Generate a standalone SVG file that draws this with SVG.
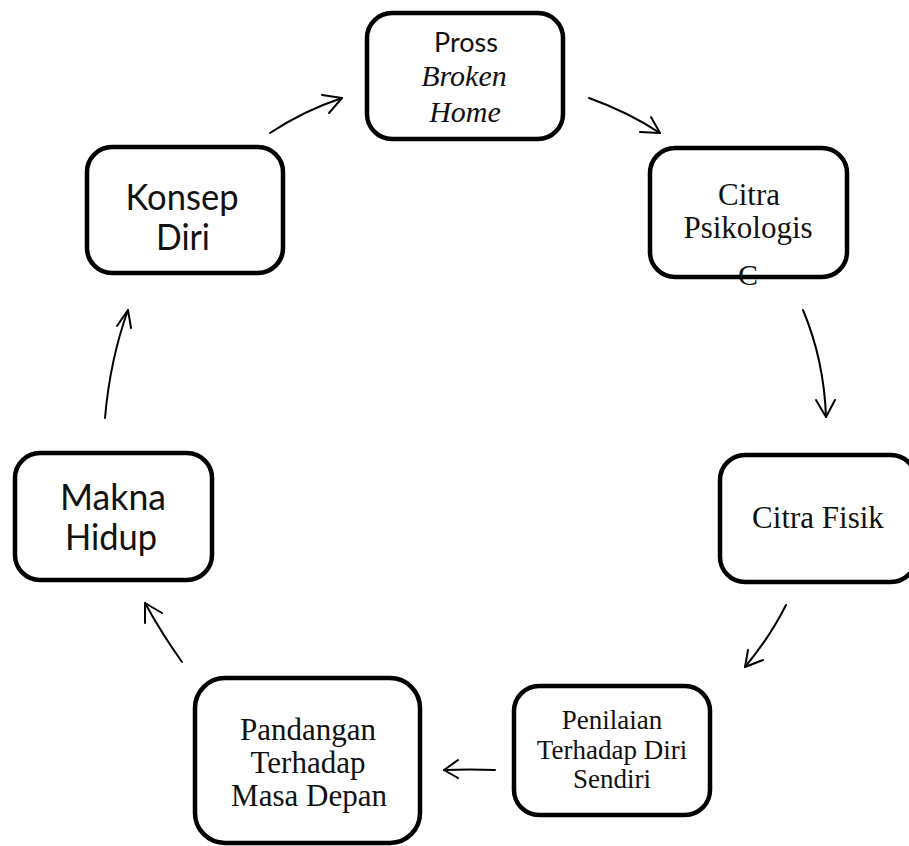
<svg xmlns="http://www.w3.org/2000/svg" width="909" height="846" viewBox="0 0 909 846">
<style>
.box{fill:#fff;stroke:#000;stroke-width:4.5}
.sans{font-family:Lato,"Open Sans","Liberation Sans",sans-serif;fill:#111;text-anchor:middle}
.serif{font-family:"Liberation Serif","Times New Roman",serif;fill:#111;text-anchor:middle}
.con path{fill:none;stroke:#000;stroke-width:2;stroke-linecap:round;stroke-linejoin:round}
</style>
<rect width="909" height="846" fill="#fff"/>
<g id="n1"><rect class="box" x="367" y="13" width="196" height="126" rx="25"/>
<text class="sans" x="466" y="52" font-size="27">Pross</text>
<text class="serif" x="464" y="86" font-size="30" font-style="italic">Broken</text>
<text class="serif" x="465" y="122" font-size="30" font-style="italic">Home</text></g>
<g id="n2"><rect class="box" x="650" y="148" width="197" height="129" rx="25"/>
<text class="serif" x="749" y="205" font-size="31">Citra</text>
<text class="serif" x="748" y="238" font-size="31">Psikologis</text>
<text class="serif" x="748" y="285" font-size="30">C</text></g>
<g id="n3"><rect class="box" x="720" y="455" width="196" height="127" rx="25"/>
<text class="serif" x="818" y="528" font-size="31">Citra Fisik</text></g>
<g id="n4"><rect class="box" x="514" y="686" width="196" height="129" rx="25"/>
<text class="serif" x="612" y="729" font-size="27">Penilaian</text>
<text class="serif" x="612" y="759" font-size="27">Terhadap Diri</text>
<text class="serif" x="612" y="788" font-size="27">Sendiri</text></g>
<g id="n5"><rect class="box" x="195" y="678" width="225" height="165" rx="30"/>
<text class="serif" x="308" y="740" font-size="31">Pandangan</text>
<text class="serif" x="308" y="773" font-size="31">Terhadap</text>
<text class="serif" x="309" y="806" font-size="31">Masa Depan</text></g>
<g id="n6"><rect class="box" x="15" y="453" width="197" height="127" rx="25"/>
<text class="sans" x="113" y="510" font-size="36" textLength="106" lengthAdjust="spacingAndGlyphs">Makna</text>
<text class="sans" x="111" y="550" font-size="36" textLength="92" lengthAdjust="spacingAndGlyphs">Hidup</text></g>
<g id="n7"><rect class="box" x="87" y="147" width="196" height="126" rx="25"/>
<text class="sans" x="182" y="210" font-size="36" textLength="113" lengthAdjust="spacingAndGlyphs">Konsep</text>
<text class="sans" x="183" y="250" font-size="36" textLength="54" lengthAdjust="spacingAndGlyphs">Diri</text></g>
<g id="connectors" class="con">
<path d="M270,133 Q303,111 342,98"/><path d="M322,95 L342,98 L329,113"/>
<path d="M589,98 Q628,112 660,133"/><path d="M651,117 L660,133 L640,132"/>
<path d="M803,310 Q824,360 826,417"/><path d="M816,400 L826,417 L835,400"/>
<path d="M786,605 Q770,637 745,667"/><path d="M748,650 L745,667 L763,660"/>
<path d="M495,770 Q470,769 444,770"/><path d="M458,760 L444,770 L458,778"/>
<path d="M182,662 Q162,634 145,603"/><path d="M145,623 L145,603 L162,613"/>
<path d="M105,418 Q110,360 128,310"/><path d="M117,326 L128,310 L131,328"/>
</g>
</svg>
